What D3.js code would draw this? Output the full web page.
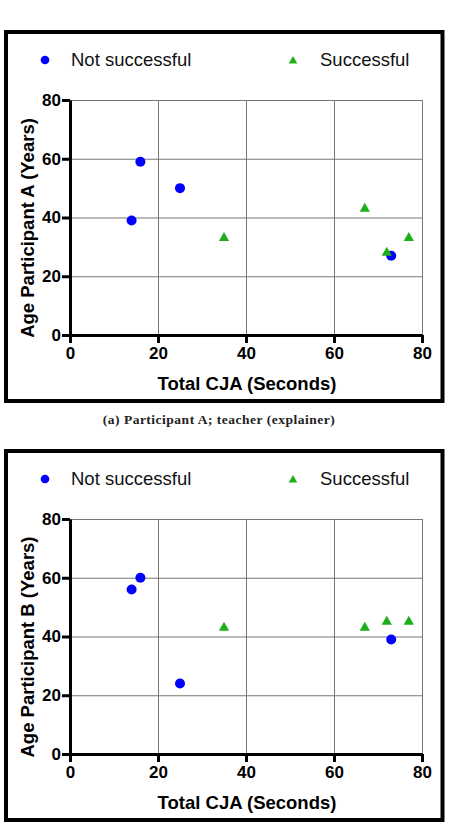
<!DOCTYPE html>
<html>
<head>
<meta charset="utf-8">
<script src="https://cdn.jsdelivr.net/npm/d3@7"></script>
<style>
  body { margin: 0; background: #fff; }
  svg { display: block; }
</style>
</head>
<body>
<div id="chart"></div>
<script>
// data
const seriesNames = ["Not successful", "Successful"];
const xTicks = [0, 20, 40, 60, 80];
const yTicks = [0, 20, 40, 60, 80];

// [Total CJA seconds, age]
const panelANotSuccessful = [[14, 39], [16, 59], [25, 50], [73, 27]];
const panelASuccessful = [[35, 33], [67, 43], [72, 28], [77, 33]];
const panelBNotSuccessful = [[14, 56], [16, 60], [25, 24], [73, 39]];
const panelBSuccessful = [[35, 43], [67, 43], [72, 45], [77, 45]];

const panelTitles = ["Age Participant A (Years)", "Age Participant B (Years)"];
const xTitle = "Total CJA (Seconds)";
const captions = ["(a) Participant A; teacher (explainer)", null];

const blue = "#0000ff";
const green = "#1bb01b";

const svg = d3.select("#chart")
  .append("svg")
  .attr("width", 451)
  .attr("height", 825);

function drawPanel(offsetY, notSucc, succ, yTitle, caption) {
  const g = svg.append("g").attr("transform", `translate(0, ${offsetY})`);

  // frame
  g.append("rect")
    .attr("x", 6)
    .attr("y", 32)
    .attr("width", 436.5)
    .attr("height", 369)
    .attr("fill", "none")
    .attr("stroke", "#000")
    .attr("stroke-width", 4);

  const x = d3.scaleLinear().domain([0, 80]).range([70, 422]);
  const y = d3.scaleLinear().domain([0, 80]).range([335, 100]);

  // grid lines
  g.append("g")
    .attr("transform", "translate(0, 100)")
    .call(d3.axisBottom(x).tickValues(xTicks.slice(1)).tickSize(235).tickFormat(""))
    .call(s => s.select(".domain").remove())
    .selectAll("line")
      .attr("stroke", "#777")
      .attr("stroke-width", 1);

  g.append("g")
    .attr("transform", "translate(422, 0)")
    .call(d3.axisLeft(y).tickValues(yTicks.slice(1)).tickSize(352).tickFormat(""))
    .call(s => s.select(".domain").remove())
    .selectAll("line")
      .attr("stroke", "#777")
      .attr("stroke-width", 1);

  // x axis
  const xAxis = g.append("g")
    .attr("transform", "translate(0, 335)")
    .call(d3.axisBottom(x).tickValues(xTicks).tickSize(8).tickSizeOuter(0).tickPadding(4));
  xAxis.select(".domain").attr("stroke-width", 3);
  xAxis.selectAll(".tick line").attr("stroke-width", 3);
  xAxis.selectAll("text")
    .style("font-family", "'Liberation Sans', Arial, sans-serif")
    .style("font-size", "17px")
    .style("font-weight", "bold")
    .attr("fill", "#000");

  // y axis
  const yAxis = g.append("g")
    .attr("transform", "translate(70, 0)")
    .call(d3.axisLeft(y).tickValues(yTicks).tickSize(8).tickSizeOuter(0).tickPadding(1));
  yAxis.select(".domain").attr("stroke-width", 3);
  yAxis.selectAll(".tick line").attr("stroke-width", 3);
  yAxis.selectAll("text")
    .style("font-family", "'Liberation Sans', Arial, sans-serif")
    .style("font-size", "17px")
    .style("font-weight", "bold")
    .attr("fill", "#000");

  // axis titles
  g.append("text")
    .attr("x", 247)
    .attr("y", 390)
    .attr("text-anchor", "middle")
    .style("font-family", "'Liberation Sans', Arial, sans-serif")
    .style("font-size", "18.5px")
    .style("font-weight", "bold")
    .text(xTitle);

  g.append("text")
    .attr("transform", "translate(34, 228) rotate(-90)")
    .attr("text-anchor", "middle")
    .style("font-family", "'Liberation Sans', Arial, sans-serif")
    .style("font-size", "18.5px")
    .style("font-weight", "bold")
    .text(yTitle);

  // points
  g.selectAll(".ns")
    .data(notSucc)
    .enter().append("circle")
    .attr("class", "ns")
    .attr("cx", d => x(d[0]))
    .attr("cy", d => y(d[1]))
    .attr("r", 5)
    .attr("fill", blue);

  g.selectAll(".s")
    .data(succ)
    .enter().append("path")
    .attr("class", "s")
    .attr("transform", d => `translate(${x(d[0])}, ${y(d[1])})`)
    .attr("d", d3.symbol(d3.symbolTriangle).size(46)())
    .attr("fill", green);

  // legend
  g.append("circle")
    .attr("cx", 45).attr("cy", 60).attr("r", 4.3)
    .attr("fill", blue);
  g.append("path")
    .attr("transform", "translate(293, 61)")
    .attr("d", d3.symbol(d3.symbolTriangle).size(32)())
    .attr("fill", green);

  g.selectAll(".legend-label")
    .data(seriesNames)
    .enter().append("text")
    .attr("class", "legend-label")
    .attr("x", (d, i) => i === 0 ? 71 : 320)
    .attr("y", 66)
    .style("font-family", "'Liberation Sans', Arial, sans-serif")
    .style("font-size", "18.5px")
    .attr("fill", "#111")
    .text(d => d);

  if (caption) {
    g.append("text")
      .attr("x", 219)
      .attr("y", 424)
      .attr("text-anchor", "middle")
      .style("font-family", "'Liberation Serif', 'Times New Roman', serif")
      .style("font-size", "13.5px")
      .style("font-weight", "bold")
      .style("letter-spacing", "0.5px")
      .attr("fill", "#222")
      .text(caption);
  }
}

drawPanel(0, panelANotSuccessful, panelASuccessful, panelTitles[0], captions[0]);
drawPanel(419, panelBNotSuccessful, panelBSuccessful, panelTitles[1], captions[1]);
</script>
</body>
</html>
